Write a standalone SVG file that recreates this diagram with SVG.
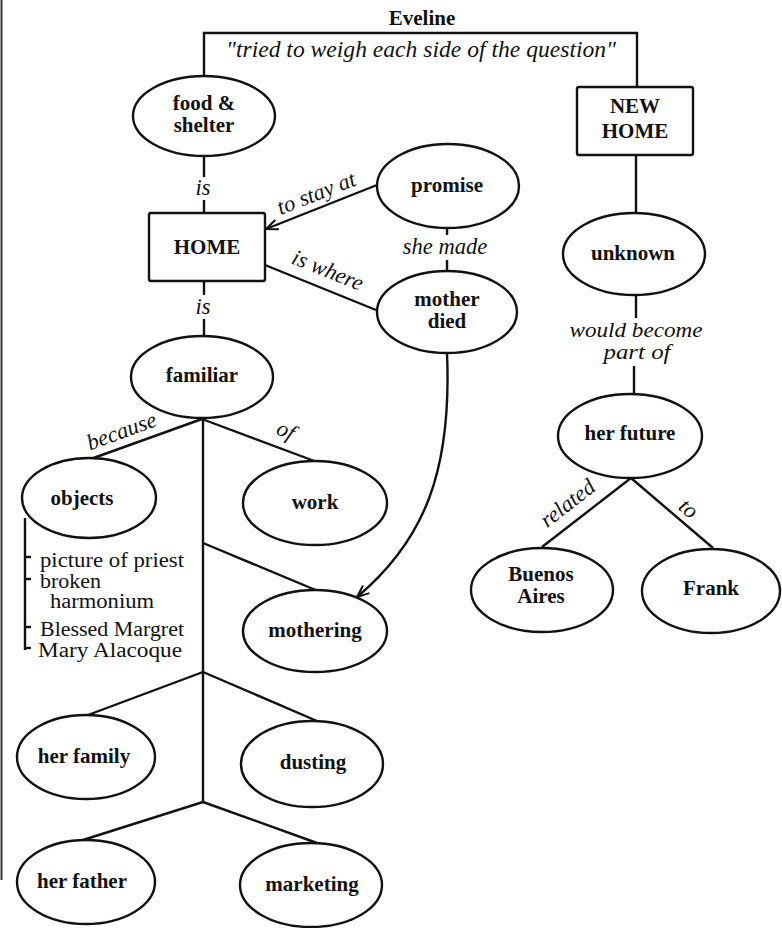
<svg xmlns="http://www.w3.org/2000/svg" width="782" height="928" viewBox="0 0 782 928">
  <style>
    .node { fill: #fff; stroke: #111; stroke-width: 2.4; }
    .edge { fill: none; stroke: #111; stroke-width: 2.4; }
    .lbl  { font-family: "Liberation Serif", serif; font-weight: bold; font-size: 21px; fill: #111; text-anchor: middle; }
    .it   { font-family: "Liberation Serif", serif; font-style: italic; font-size: 22.5px; fill: #111; text-anchor: middle; }
    .it2  { font-family: "Liberation Serif", serif; font-style: italic; font-size: 20.5px; fill: #111; text-anchor: middle; }
    .list { font-family: "Liberation Serif", serif; font-size: 20px; fill: #111; }
  </style>
  <defs>
    <marker id="arrow" markerUnits="userSpaceOnUse" markerWidth="16" markerHeight="14" refX="13" refY="6" orient="auto">
      <path d="M1,1 L13,6 L1,11" fill="none" stroke="#111" stroke-width="2"/>
    </marker>
  </defs>

  <rect width="782" height="928" fill="#fff"/>
  <!-- scanned page edge -->
  <line x1="1.5" y1="0" x2="1.5" y2="880" stroke="#333" stroke-width="2"/>

  <!-- title and top bracket -->
  <text class="lbl" x="422" y="25">Eveline</text>
  <text class="it" x="421" y="57" textLength="390" lengthAdjust="spacingAndGlyphs">"tried to weigh each side of the question"</text>

  <g id="connectors">
    <polyline class="edge" points="204,76 204,33 637,33 637,87"/>
    <!-- food & shelter - HOME -->
    <line class="edge" x1="204" y1="157" x2="204" y2="177"/>
    <line class="edge" x1="204" y1="200" x2="204" y2="213"/>
    <!-- promise -> HOME -->
    <line class="edge" x1="377" y1="185" x2="266" y2="229" marker-end="url(#arrow)"/>
    <!-- HOME - mother died -->
    <line class="edge" x1="265" y1="265" x2="376" y2="310"/>
    <!-- promise - mother died -->
    <line class="edge" x1="447" y1="228" x2="447" y2="235"/>
    <line class="edge" x1="447" y1="260" x2="447" y2="272"/>
    <!-- mother died -> mothering -->
    <path class="edge" d="M447,353 C452,470 425,540 357,597" marker-end="url(#arrow)"/>
    <!-- HOME - familiar -->
    <line class="edge" x1="204" y1="281" x2="204" y2="295"/>
    <line class="edge" x1="204" y1="319" x2="204" y2="337"/>
    <!-- familiar branches -->
    <line class="edge" x1="202" y1="419" x2="88" y2="460"/>
    <line class="edge" x1="202" y1="419" x2="317" y2="462"/>
    <line class="edge" x1="203" y1="418" x2="203" y2="802"/>
    <line class="edge" x1="203" y1="543" x2="318" y2="591"/>
    <line class="edge" x1="203" y1="672" x2="88" y2="715"/>
    <line class="edge" x1="203" y1="672" x2="317" y2="721"/>
    <line class="edge" x1="203" y1="802" x2="83" y2="840"/>
    <line class="edge" x1="203" y1="802" x2="317" y2="843"/>
    <!-- objects list bracket -->
    <line class="edge" x1="25" y1="518" x2="25" y2="650" stroke-width="2"/>
    <line class="edge" x1="25" y1="557" x2="31" y2="557" stroke-width="2"/>
    <line class="edge" x1="25" y1="579" x2="31" y2="579" stroke-width="2"/>
    <line class="edge" x1="25" y1="627" x2="31" y2="627" stroke-width="2"/>
    <line class="edge" x1="25" y1="648" x2="31" y2="648" stroke-width="2"/>
    <!-- NEW HOME side -->
    <line class="edge" x1="636" y1="155" x2="636" y2="213"/>
    <line class="edge" x1="636" y1="295" x2="636" y2="318"/>
    <line class="edge" x1="634" y1="366" x2="634" y2="395"/>
    <line class="edge" x1="631" y1="478" x2="542" y2="547"/>
    <line class="edge" x1="631" y1="478" x2="713" y2="548"/>
  </g>

  <!-- connector labels -->
  <g id="edge-labels">
    <text class="it" x="203" y="195">is</text>
    <text class="it" x="203" y="314">is</text>
    <text class="it" transform="translate(319,200) rotate(-21.4)">to stay at</text>
    <text class="it" transform="translate(325,277) rotate(22)">is where</text>
    <text class="it" x="445" y="254">she made</text>
    <text class="it" transform="translate(124,438) rotate(-20)">because</text>
    <text class="it" transform="translate(283,437) rotate(25)">of</text>
    <text class="it2" x="636" y="337" textLength="133" lengthAdjust="spacingAndGlyphs">would become</text>
    <text class="it2" x="637" y="359" textLength="67" lengthAdjust="spacingAndGlyphs">part of</text>
    <text class="it" transform="translate(572,509) rotate(-38)">related</text>
    <text class="it" transform="translate(684,514) rotate(40)">to</text>
  </g>

  <g id="food-shelter">
    <ellipse class="node" cx="204" cy="116" rx="71" ry="40"/>
    <text class="lbl" x="204" y="110">food &amp;</text>
    <text class="lbl" x="204" y="132">shelter</text>
  </g>
  <g id="home">
    <rect class="node" x="149" y="213" width="116" height="68" rx="2"/>
    <text class="lbl" x="207" y="254">HOME</text>
  </g>
  <g id="promise">
    <ellipse class="node" cx="448" cy="186" rx="71" ry="42"/>
    <text class="lbl" x="447" y="192">promise</text>
  </g>
  <g id="mother-died">
    <ellipse class="node" cx="447" cy="312" rx="70" ry="41"/>
    <text class="lbl" x="447" y="306">mother</text>
    <text class="lbl" x="447" y="328">died</text>
  </g>
  <g id="familiar">
    <ellipse class="node" cx="202" cy="377" rx="71" ry="41"/>
    <text class="lbl" x="202" y="382">familiar</text>
  </g>
  <g id="objects">
    <ellipse class="node" cx="89" cy="498" rx="67" ry="40"/>
    <text class="lbl" x="82" y="505">objects</text>
    <text class="list" x="40" y="567" textLength="144" lengthAdjust="spacingAndGlyphs">picture of priest</text>
    <text class="list" x="40" y="588" textLength="61" lengthAdjust="spacingAndGlyphs">broken</text>
    <text class="list" x="50" y="608" textLength="104" lengthAdjust="spacingAndGlyphs">harmonium</text>
    <text class="list" x="40" y="636" textLength="144" lengthAdjust="spacingAndGlyphs">Blessed Margret</text>
    <text class="list" x="38" y="657" textLength="144" lengthAdjust="spacingAndGlyphs">Mary Alacoque</text>
  </g>
  <g id="work">
    <ellipse class="node" cx="315" cy="503" rx="72" ry="42"/>
    <text class="lbl" x="315" y="509">work</text>
  </g>
  <g id="mothering">
    <ellipse class="node" cx="315" cy="631" rx="72" ry="41"/>
    <text class="lbl" x="315" y="637">mothering</text>
  </g>
  <g id="her-family">
    <ellipse class="node" cx="86" cy="757" rx="69" ry="42"/>
    <text class="lbl" x="84" y="763">her family</text>
  </g>
  <g id="dusting">
    <ellipse class="node" cx="312" cy="764" rx="71" ry="43"/>
    <text class="lbl" x="313" y="769">dusting</text>
  </g>
  <g id="her-father">
    <ellipse class="node" cx="86" cy="882" rx="69" ry="42"/>
    <text class="lbl" x="82" y="888">her father</text>
  </g>
  <g id="marketing">
    <ellipse class="node" cx="311" cy="885" rx="71" ry="42"/>
    <text class="lbl" x="312" y="891">marketing</text>
  </g>
  <g id="new-home">
    <rect class="node" x="577" y="87" width="116" height="68" rx="2"/>
    <text class="lbl" x="635" y="113">NEW</text>
    <text class="lbl" x="635" y="138">HOME</text>
  </g>
  <g id="unknown">
    <ellipse class="node" cx="634" cy="254" rx="71" ry="41"/>
    <text class="lbl" x="633" y="260">unknown</text>
  </g>
  <g id="her-future">
    <ellipse class="node" cx="630" cy="436" rx="72" ry="42"/>
    <text class="lbl" x="630" y="440">her future</text>
  </g>
  <g id="buenos-aires">
    <ellipse class="node" cx="542" cy="590" rx="71" ry="42"/>
    <text class="lbl" x="541" y="581">Buenos</text>
    <text class="lbl" x="541" y="603">Aires</text>
  </g>
  <g id="frank">
    <ellipse class="node" cx="711" cy="591" rx="69" ry="42"/>
    <text class="lbl" x="711" y="595">Frank</text>
  </g>
</svg>
